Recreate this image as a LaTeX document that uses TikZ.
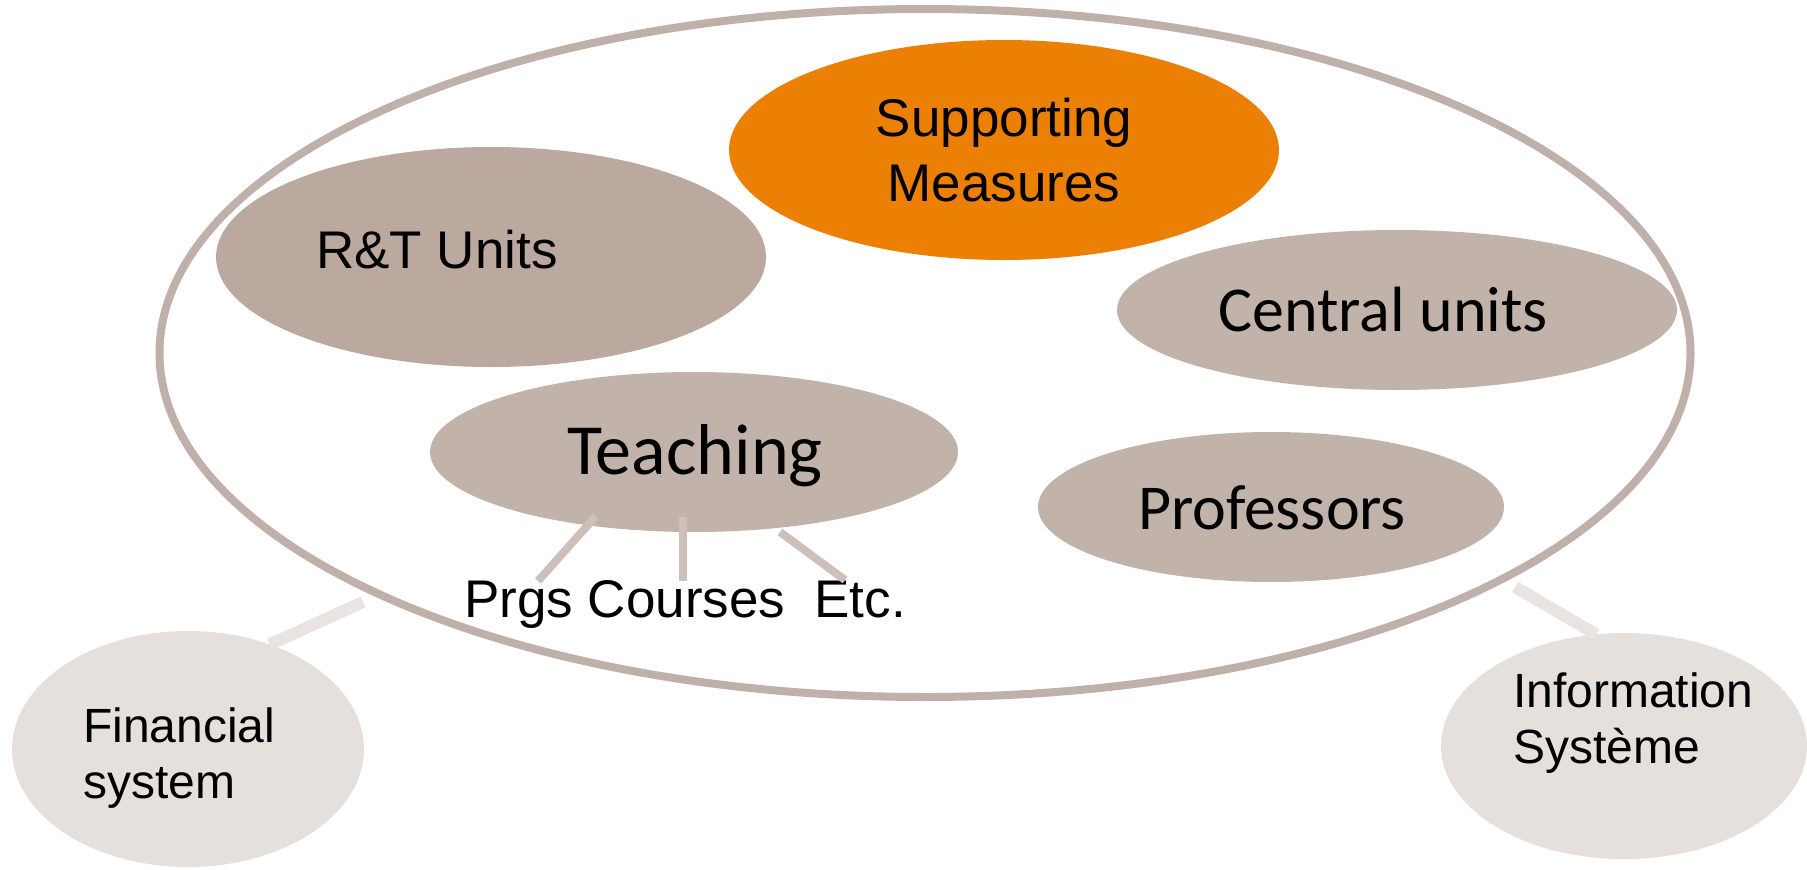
\documentclass[tikz,border=0pt]{standalone}
\usepackage{fontspec}
\setmainfont{Liberation Sans}
\newfontfamily\calibri{Carlito}
\usetikzlibrary{shapes.geometric}

\definecolor{rimgray}{HTML}{BFB1A9}
\definecolor{unitdark}{HTML}{BBA89F}
\definecolor{unitgray}{HTML}{C2B3AA}
\definecolor{measorange}{HTML}{EC8004}
\definecolor{outsidegray}{HTML}{E6E0DD}
\definecolor{sublink}{HTML}{CDC0B9}
\definecolor{outlink}{HTML}{E9E4E1}

\tikzset{
	blob/.style = {ellipse, inner sep = 0pt, outer sep = 0pt},
	bigtext/.style = {inner sep = 0pt, font = \fontsize{53}{65}\selectfont},
	calitext/.style = {inner sep = 0pt, font = \calibri\fontsize{64}{77}\selectfont},
	smalltext/.style = {inner sep = 0pt, align = left, font = \fontsize{48}{56}\selectfont}
}

\begin{document}
\begin{tikzpicture}[x = 1pt, y = -1pt]

	% Canvas (pixel units, y pointing down)

	\useasboundingbox (0, 0) rectangle (1807, 870);

	% Outer ring holding the organisation

	\node [blob, draw = rimgray, line width = 8pt, minimum width = 1531pt, minimum height = 688pt] (org) at (925, 353) {};

	% Inner units

	\node [blob, fill = measorange, minimum width = 550pt, minimum height = 220pt] (meas) at (1004, 150) {};
	\node [blob, fill = unitdark, minimum width = 550pt, minimum height = 220pt] (rt) at (491, 257) {};
	\node [blob, fill = unitgray, minimum width = 560pt, minimum height = 160pt] (central) at (1397, 310) {};
	\node [blob, fill = unitgray, minimum width = 528pt, minimum height = 160pt] (teach) at (694, 452) {};
	\node [blob, fill = unitgray, minimum width = 466pt, minimum height = 150pt] (prof) at (1271, 507) {};

	\node [bigtext, align = center] (meas-text) at (1004, 150) {Supporting\\Measures};
	\node [bigtext, anchor = base] (rt-text) at (437, 268) {R\&T Units};
	\node [calitext, anchor = base] (central-text) at (1383, 331) {Central units};
	\node [calitext, anchor = base, font = \calibri\fontsize{72}{86}\selectfont] (teach-text) at (695, 474) {Teaching};
	\node [calitext, anchor = base] (prof-text) at (1272, 529) {Professors};

	% Sub-items of teaching

	\node [bigtext, anchor = base west] (subs) at (464, 617) {Prgs Courses~~Etc.};

	\coordinate (prgs-a) at (596, 516);
	\coordinate (prgs-b) at (538, 581);
	\coordinate (courses-a) at (683, 517);
	\coordinate (courses-b) at (683, 581);
	\coordinate (etc-a) at (780, 532);
	\coordinate (etc-b) at (845, 580);

	\begin{scope}[sublink, line width = 8pt]
		\draw (prgs-a) -- (prgs-b);
		\draw (courses-a) -- (courses-b);
		\draw (etc-a) -- (etc-b);
	\end{scope}

	% Outside systems

	\node [blob, fill = outsidegray, minimum width = 352pt, minimum height = 236pt] (fin) at (188, 749) {};
	\node [blob, fill = outsidegray, minimum width = 366pt, minimum height = 226pt] (info) at (1624, 746) {};

	\node [smalltext, anchor = west] (fin-text) at (83, 758) {Financial\\system};
	\node [smalltext, anchor = west] (info-text) at (1513, 723) {Information\\Système};

	\coordinate (fin-end) at (363, 602);
	\coordinate (info-end) at (1515, 587);

	\begin{scope}[outlink, line width = 12pt]
		\draw (fin-end) -- (fin.52);
		\draw (info-end) -- (info.104);
	\end{scope}

\end{tikzpicture}
\end{document}
